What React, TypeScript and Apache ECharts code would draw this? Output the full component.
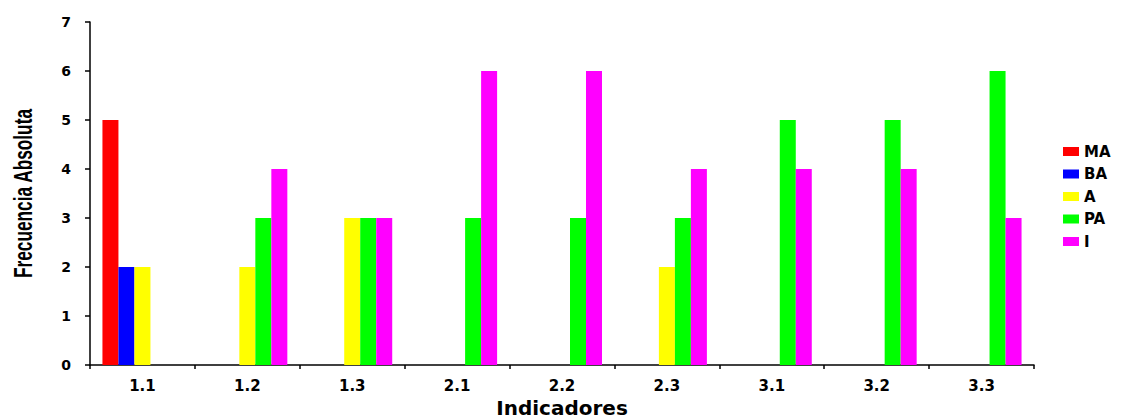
import React, { useEffect, useRef } from "react";
import * as echarts from "echarts";

const categories = ["1.1", "1.2", "1.3", "2.1", "2.2", "2.3", "3.1", "3.2", "3.3"];
const seriesNames = ["MA", "BA", "A", "PA", "I"];
const seriesColors = ["#ff0000", "#0000ff", "#ffff00", "#00ff00", "#ff00ff"];
const valuesMA = [5, null, null, null, null, null, null, null, null];
const valuesBA = [2, null, null, null, null, null, null, null, null];
const valuesA = [2, 2, 3, null, null, 2, null, null, null];
const valuesPA = [null, 3, 3, 3, 3, 3, 5, 5, 6];
const valuesI = [null, 4, 3, 6, 6, 4, 4, 4, 3];
const allValues = [valuesMA, valuesBA, valuesA, valuesPA, valuesI];
const yTicks = [0, 1, 2, 3, 4, 5, 6, 7];
const xTitle = "Indicadores";
const yTitle = "Frecuencia Absoluta";

export default function App() {
  const ref = useRef<HTMLDivElement>(null);
  useEffect(() => {
    document.body.style.margin = "0";
    const chart = echarts.init(ref.current!, null, { renderer: "svg" });
    const font = "DejaVu Sans";
    chart.setOption({
      animation: false,
      backgroundColor: "#ffffff",
      grid: { left: 90, right: 88, top: 22, bottom: 54, containLabel: false, outerBoundsMode: "none" },
      legend: {
        orient: "vertical",
        left: 1058,
        top: 139,
        padding: 5,
        itemWidth: 16,
        itemHeight: 9,
        itemGap: 7.5,
        icon: "rect",
        data: seriesNames,
        textStyle: { fontFamily: font, fontWeight: "bold", fontSize: 15, color: "#000" },
      },
      graphic: [
        {
          type: "text",
          x: 24,
          y: 193.5,
          rotation: Math.PI / 2,
          scaleX: 0.69,
          style: {
            text: yTitle,
            font: "bold 25px 'Liberation Sans', Arial, sans-serif",
            fill: "#000",
            align: "center",
            verticalAlign: "middle",
          },
        },
      ],
      xAxis: {
        type: "category",
        data: categories,
        name: xTitle,
        nameLocation: "middle",
        nameGap: 31,
        nameTextStyle: { fontFamily: font, fontWeight: "bold", fontSize: 20, color: "#000" },
        axisLine: { lineStyle: { color: "#000", width: 1.5 } },
        axisTick: { show: true, length: 4, lineStyle: { color: "#000", width: 1.5 } },
        axisLabel: { fontFamily: font, fontWeight: "bold", fontSize: 15, color: "#000", margin: 13 },
      },
      yAxis: {
        type: "value",
        min: 0,
        max: 7,
        interval: 1,
        axisLine: { show: true, lineStyle: { color: "#000", width: 1.5 } },
        axisTick: { show: true, length: 5, lineStyle: { color: "#000", width: 1.5 } },
        splitLine: { show: false },
        axisLabel: {
          fontFamily: font,
          fontWeight: "bold",
          fontSize: 14,
          color: "#000",
          margin: 19,
          formatter: (v: number) => (yTicks.includes(v) ? String(v) : ""),
        },
      },
      series: seriesNames.map((name, i) => ({
        name,
        type: "bar",
        data: allValues[i],
        barWidth: 16,
        barGap: "0%",
        itemStyle: { color: seriesColors[i] },
      })),
    });
    return () => chart.dispose();
  }, []);
  return (
    <div
      ref={ref}
      style={{ width: 1122, height: 419, position: "absolute", left: 0, top: 0 }}
    />
  );
}
